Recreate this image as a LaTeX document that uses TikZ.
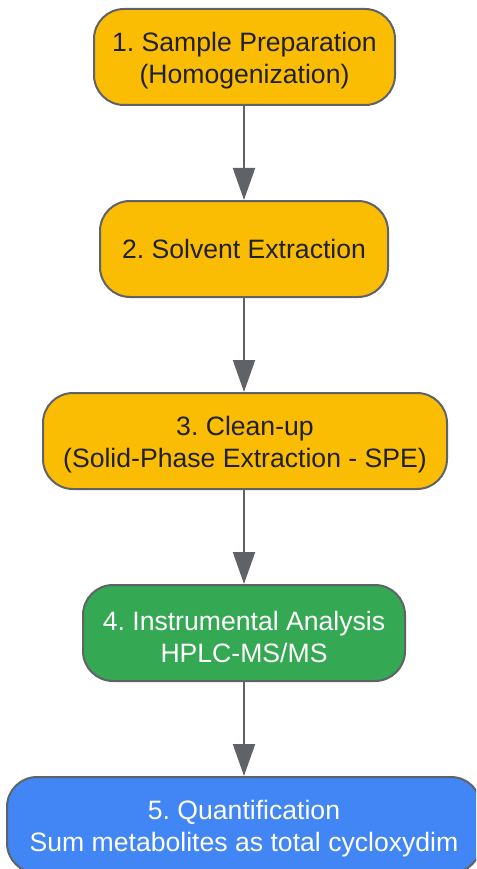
\documentclass[tikz,border=0pt]{standalone}
\usepackage{fontspec}
\setmainfont{Liberation Sans}
\usetikzlibrary{arrows.meta}
\definecolor{boxyellow}{HTML}{FBBC04}
\definecolor{boxgreen}{HTML}{34A853}
\definecolor{boxblue}{HTML}{4285F4}
\definecolor{edgegray}{HTML}{5F6368}
\definecolor{darktext}{HTML}{202124}
\tikzset{
  stepbox/.style={draw=edgegray, line width=2pt, rounded corners=30pt,
    minimum height=96pt, align=center, inner sep=0pt,
    font=\fontsize{26.6}{32}\selectfont\frenchspacing},
  yellowbox/.style={stepbox, fill=boxyellow, text=darktext},
  greenbox/.style={stepbox, fill=boxgreen, text=white},
  bluebox/.style={stepbox, fill=boxblue, text=white},
  steptext/.style={align=center, inner sep=0pt, yshift=-4pt,
    font=\fontsize{26.6}{32}\selectfont\frenchspacing},
  flow/.style={draw=edgegray, line width=2pt, -{Triangle[length=32pt,width=22pt]}}
}
\begin{document}
\begin{tikzpicture}[x=1pt,y=-1pt]
\useasboundingbox (0,0) rectangle (476,869);
\clip (0,0) rectangle (476,869);
\node[yellowbox, minimum width=301pt,
  label={[steptext, text=darktext, name=t1]center:1. Sample Preparation\\(Homogenization)}] (s1) at (244.5,57) {};
\node[yellowbox, minimum width=288pt] (s2) at (244,249) {2. Solvent Extraction};
\node[yellowbox, minimum width=404pt,
  label={[steptext, text=darktext, name=t3]center:3. Clean-up\\(Solid-Phase Extraction - SPE)}] (s3) at (245,441) {};
\node[greenbox, minimum width=322pt,
  label={[steptext, text=white, name=t4]center:4. Instrumental Analysis\\HPLC-MS/MS}] (s4) at (244,633) {};
\node[bluebox, minimum width=474pt,
  label={[steptext, text=white, name=t5]center:5. Quantification\\Sum metabolites as total cycloxydim}] (s5) at (244,825) {};
\draw[flow] (s1.south -| 244,0) -- (s2.north -| 244,0);
\draw[flow] (s2.south -| 244,0) -- (s3.north -| 244,0);
\draw[flow] (s3.south -| 244,0) -- (s4.north -| 244,0);
\draw[flow] (s4.south -| 244,0) -- (s5.north -| 244,0);
\end{tikzpicture}
\end{document}
